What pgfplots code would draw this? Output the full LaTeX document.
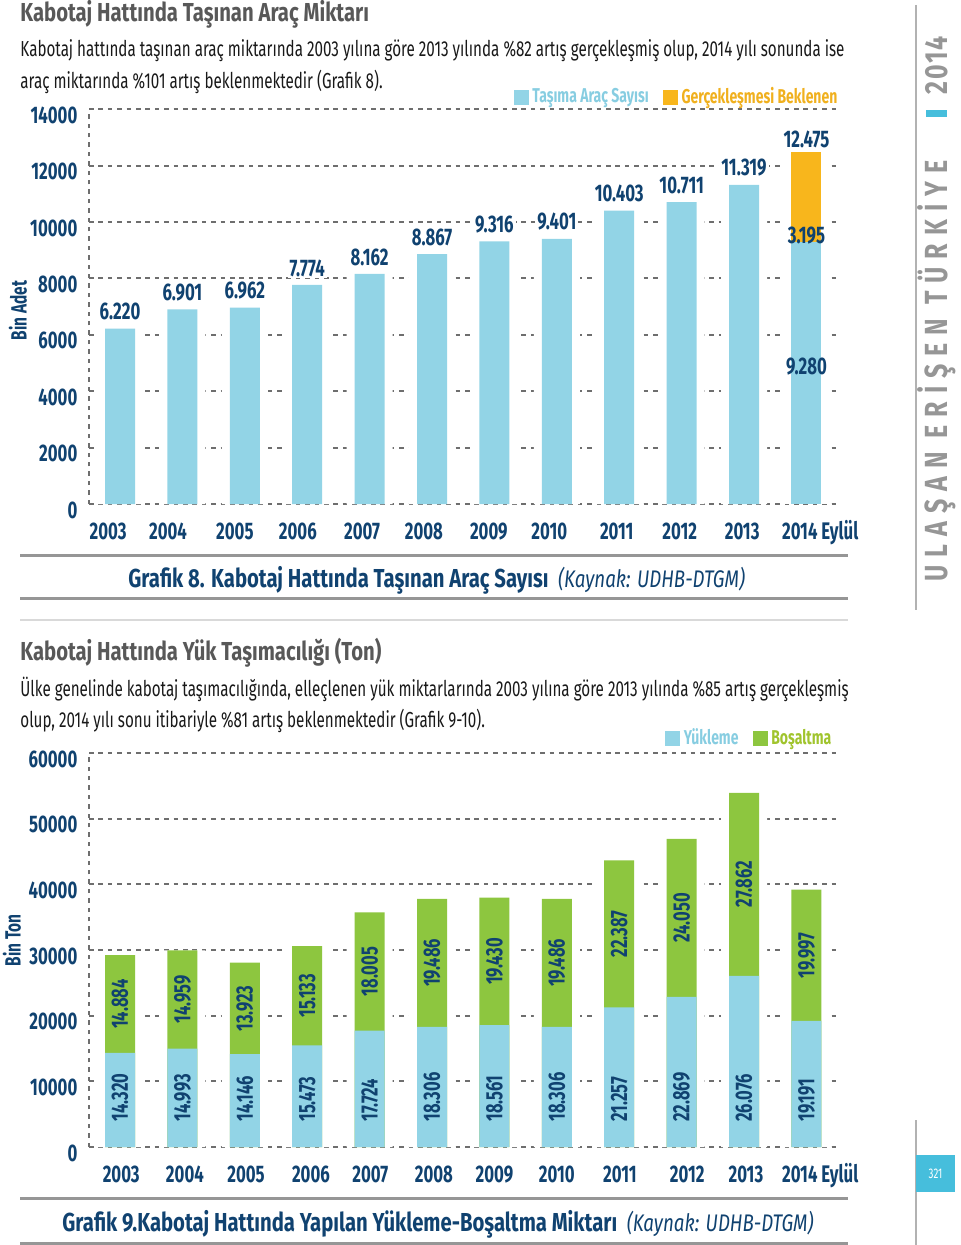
\documentclass[border=0pt]{standalone}
\usepackage{fontspec}
\setmainfont{Fira Sans}[FakeStretch=0.7]
\newfontfamily\titlefont{Fira Sans}[FakeStretch=0.78]
\newfontfamily\stripfont{Fira Sans}[FakeStretch=0.78, LetterSpace=25]
\newfontfamily\stripyear{Fira Sans}[FakeStretch=0.78, LetterSpace=6]
\usepackage{pgfplots}
\usepackage{pgfplotstable}
\pgfplotsset{compat=1.18}
\definecolor{navy}{RGB}{16,66,112}
\definecolor{barblue}{RGB}{146,212,230}
\definecolor{barorange}{RGB}{248,182,28}
\definecolor{bargreen}{RGB}{141,198,63}
\definecolor{legblue}{RGB}{135,205,225}
\definecolor{leggreen}{RGB}{160,196,45}
\definecolor{legorange}{RGB}{240,176,30}
\definecolor{titlegray}{RGB}{88,88,88}
\definecolor{bodytext}{RGB}{25,25,25}
\definecolor{gridgray}{RGB}{110,110,110}
\definecolor{rulegray}{RGB}{150,150,150}
\definecolor{stripgray}{RGB}{150,150,150}
\definecolor{stripblue}{RGB}{70,190,220}

\pgfplotstableread{
x t
0 6220
1 6901
2 6962
3 7774
4 8162
5 8867
6 9316
7 9401
8 10403
9 10711
10 11319
}\araclar

\pgfplotstableread{
x y b
0 14320 14884
1 14993 14959
2 14146 13923
3 15473 15133
4 17724 18005
5 18306 19486
6 18561 19430
7 18306 19486
8 21257 22387
9 22869 24050
10 26076 27862
11 19191 19997
}\yuk

\tikzset{
  lab/.style={font=\bfseries\fontsize{12}{12}\selectfont, text=navy, inner sep=1pt},
  rlab/.style={font=\bfseries\fontsize{11.8}{11.8}\selectfont, text=navy, inner sep=0pt, rotate=90},
}
\pgfplotsset{
  kabotaj/.style={
    scale only axis, width=374.5pt,
    xmin=-0.497, xmax=11.506, ymin=0,
    axis lines*=left,
    axis line style={gridgray, dash pattern=on 2.2pt off 2.5pt, line width=1pt},
    ymajorgrids,
    grid style={gridgray, dash pattern=on 2.3pt off 2.4pt, line width=1pt},
    major tick length=0pt,
    ybar, bar width=15pt,
    tick label style={font=\bfseries\fontsize{12}{12}\selectfont, text=navy},
    yticklabel style={/pgf/number format/1000 sep={}, /pgf/number format/assume math mode=true, xshift=-2.3pt, yshift=-3pt},
    xticklabel style={anchor=north, text height=8.6pt, text depth=0pt, yshift=-5.5pt},
    scaled y ticks=false,
    xticklabels={2003,2004,2005,2006,2007,2008,2009,2010,2011,2012,2013,{2014 Eylül}},
    ylabel style={font=\bfseries\fontsize{11}{11}\selectfont, text=navy, anchor=center},
    clip=false,
    legend style={draw=none, fill=none, legend columns=2, inner sep=0pt,
      font=\bfseries\fontsize{10}{10}\selectfont,
      /tikz/every even column/.append style={column sep=5pt}},
  },
}

\begin{document}
\begin{tikzpicture}[x=0.5pt, y=0.5pt]
\useasboundingbox (0,0) rectangle (960,-1245);

% ---------- section 1 text ----------
\node[anchor=base west, inner sep=0, font=\titlefont\bfseries\fontsize{13}{13}\selectfont, text=titlegray] at (20,-22) {Kabotaj Hattında Taşınan Araç Miktarı};
\node[anchor=base west, inner sep=0, font=\fontsize{10.85}{10.85}\selectfont, text=bodytext] at (20,-57) {Kabotaj hattında taşınan araç miktarında 2003 yılına göre 2013 yılında \%82 artış gerçekleşmiş olup, 2014 yılı sonunda ise};
\node[anchor=base west, inner sep=0, font=\fontsize{10.85}{10.85}\selectfont, text=bodytext] at (20,-89) {araç miktarında \%101 artış beklenmektedir (Grafik 8).};

% ---------- chart 1 ----------
\begin{axis}[kabotaj,
  at={(44.5pt,-252pt)}, anchor=south west,
  height=197.35pt, ymax=14000,
  ytick={0,2000,...,14000},
  xtick={-0.19,0.77,1.84,2.85,3.88,4.87,5.91,6.88,7.96,8.97,9.97,11.22},
  ylabel={Bin Adet},
  ylabel style={at={(axis description cs:-0.0948,0.49)}},
  legend style={at={(1.005,1.0)}, anchor=south east, yshift=-1pt},
]
\addlegendimage{legend image code/.code={\fill[barblue] (0pt,-3.5pt) rectangle (7pt,3.5pt);}}
\addlegendentry{\textcolor{legblue}{Taşıma Araç Sayısı}}
\addlegendimage{legend image code/.code={\fill[barorange] (0pt,-3.5pt) rectangle (7pt,3.5pt);}}
\addlegendentry{\textcolor{legorange}{Gerçekleşmesi Beklenen}}
\addplot[fill=white, draw=none, bar width=23pt, bar shift=0pt, forget plot] table[x=x, y=t]{\araclar};
\addplot[fill=white, draw=none, bar width=23pt, bar shift=0pt, forget plot] coordinates {(11,12475)};
\addplot[fill=barorange, draw=none, bar shift=0pt, forget plot] coordinates {(11,12475)};
\addplot[fill=barblue, draw=none, bar shift=0pt, forget plot,
  nodes near coords={\pgfmathprintnumber[1000 sep={.}, assume math mode=true]{\pgfplotspointmeta}},
  every node near coord/.append style={lab, fill=white, anchor=south, yshift=3pt}]
  table[x=x, y=t]{\araclar};
\addplot[fill=barblue, draw=none, bar shift=0pt, forget plot] coordinates {(11,9280)};
\node[lab, fill=white, anchor=south, yshift=1pt] at (axis cs:11,12475) {12.475};
\node[lab] at (axis cs:11,9505) {3.195};
\node[lab] at (axis cs:11,4870) {9.280};
\end{axis}

% caption 1 and rules
\draw[rulegray, line width=1.5pt] (20,-555) -- (848,-555);
\node[anchor=base west, inner sep=0, text=navy] at (128,-587) {\titlefont\bfseries\fontsize{13}{13}\selectfont Grafik 8. Kabotaj Hattında Taşınan Araç Sayısı\ \ {\mdseries\itshape\fontsize{12}{12}\selectfont (Kaynak: UDHB-DTGM)}};
\draw[rulegray, line width=1.5pt] (20,-598) -- (848,-598);
\draw[black!15, line width=1pt] (20,-620) -- (848,-620);

% ---------- section 2 text ----------
\node[anchor=base west, inner sep=0, font=\titlefont\bfseries\fontsize{13}{13}\selectfont, text=titlegray] at (20,-660) {Kabotaj Hattında Yük Taşımacılığı (Ton)};
\node[anchor=base west, inner sep=0, font=\fontsize{10.85}{10.85}\selectfont, text=bodytext] at (20,-696) {Ülke genelinde kabotaj taşımacılığında, elleçlenen yük miktarlarında 2003 yılına göre 2013 yılında \%85 artış gerçekleşmiş};
\node[anchor=base west, inner sep=0, font=\fontsize{10.85}{10.85}\selectfont, text=bodytext] at (20,-727) {olup, 2014 yılı sonu itibariyle \%81 artış beklenmektedir (Grafik 9-10).};

% ---------- chart 2 ----------
\begin{axis}[kabotaj,
  at={(44.5pt,-573.5pt)}, anchor=south west,
  height=197pt, ymax=60000,
  ytick={0,10000,...,60000},
  xtick={0.02,1.04,2.02,3.06,4.01,5.03,6.0,7.0,8.01,9.09,10.03,11.22},
  ylabel={Bin Ton},
  ylabel style={at={(axis description cs:-0.1028,0.525)}},
  legend style={at={(0.997,1.0)}, anchor=south east, yshift=0.5pt},
]
\addlegendimage{legend image code/.code={\fill[barblue] (0pt,-3.5pt) rectangle (7pt,3.5pt);}}
\addlegendentry{\textcolor{legblue}{Yükleme}}
\addlegendimage{legend image code/.code={\fill[bargreen] (0pt,-3.5pt) rectangle (7pt,3.5pt);}}
\addlegendentry{\textcolor{leggreen}{Boşaltma}}
\addplot[fill=white, draw=none, bar width=23pt, bar shift=0pt, forget plot] table[x=x, y expr=\thisrow{y}+\thisrow{b}]{\yuk};
\addplot[fill=bargreen, draw=none, bar shift=0pt, forget plot] table[x=x, y expr=\thisrow{y}+\thisrow{b}]{\yuk};
\addplot[fill=barblue, draw=none, bar shift=0pt, forget plot] table[x=x, y=y]{\yuk};
% Yükleme labels
\node[rlab, anchor=west] at (axis cs:0,3800) {14.320};
\node[rlab, anchor=west] at (axis cs:1,3800) {14.993};
\node[rlab, anchor=west] at (axis cs:2,3800) {14.146};
\node[rlab, anchor=west] at (axis cs:3,3800) {15.473};
\node[rlab, anchor=west] at (axis cs:4,3800) {17.724};
\node[rlab, anchor=west] at (axis cs:5,3800) {18.306};
\node[rlab, anchor=west] at (axis cs:6,3800) {18.561};
\node[rlab, anchor=west] at (axis cs:7,3800) {18.306};
\node[rlab, anchor=west] at (axis cs:8,3800) {21.257};
\node[rlab, anchor=west] at (axis cs:9,3800) {22.869};
\node[rlab, anchor=west] at (axis cs:10,3800) {26.076};
\node[rlab, anchor=west] at (axis cs:11,3800) {19.191};
% Boşaltma labels (middle of segment)
\node[rlab] at (axis cs:0,21762) {14.884};
\node[rlab] at (axis cs:1,22473) {14.959};
\node[rlab] at (axis cs:2,21108) {13.923};
\node[rlab] at (axis cs:3,23040) {15.133};
\node[rlab] at (axis cs:4,26727) {18.005};
\node[rlab] at (axis cs:5,28049) {19.486};
\node[rlab] at (axis cs:6,28276) {19.430};
\node[rlab] at (axis cs:7,28049) {19.486};
\node[rlab] at (axis cs:8,32451) {22.387};
\node[rlab] at (axis cs:9,34894) {24.050};
\node[rlab] at (axis cs:10,40007) {27.862};
\node[rlab] at (axis cs:11,29190) {19.997};
\end{axis}

% caption 2 and rules
\draw[rulegray, line width=1.5pt] (20,-1198) -- (848,-1198);
\node[anchor=base west, inner sep=0, text=navy] at (62,-1231) {\titlefont\bfseries\fontsize{13}{13}\selectfont Grafik 9.Kabotaj Hattında Yapılan Yükleme-Boşaltma Miktarı\ \ {\mdseries\itshape\fontsize{12}{12}\selectfont (Kaynak: UDHB-DTGM)}};
\draw[rulegray, line width=1.5pt] (20,-1243) -- (848,-1243);

% ---------- right strip ----------
\draw[black!30, line width=0.6pt] (916,-5) -- (916,-610);
\node[rotate=90, anchor=base west, inner sep=0, font=\stripfont\bfseries\fontsize{16}{16}\selectfont, text=stripgray] at (947,-582) {ULAŞAN ERİŞEN TÜRKİYE};
\fill[stripblue] (926,-117) rectangle (947,-110);
\node[rotate=90, anchor=base west, inner sep=0, font=\stripyear\bfseries\fontsize{16}{16}\selectfont, text=stripgray] at (947,-95) {2014};
\draw[black!30, line width=0.6pt] (916,-1120) -- (916,-1245);
\fill[stripblue] (916,-1155) rectangle (955,-1192);
\node[text=white, font=\fontsize{7}{7}\selectfont] at (935.5,-1173.5) {321};
\end{tikzpicture}
\end{document}
